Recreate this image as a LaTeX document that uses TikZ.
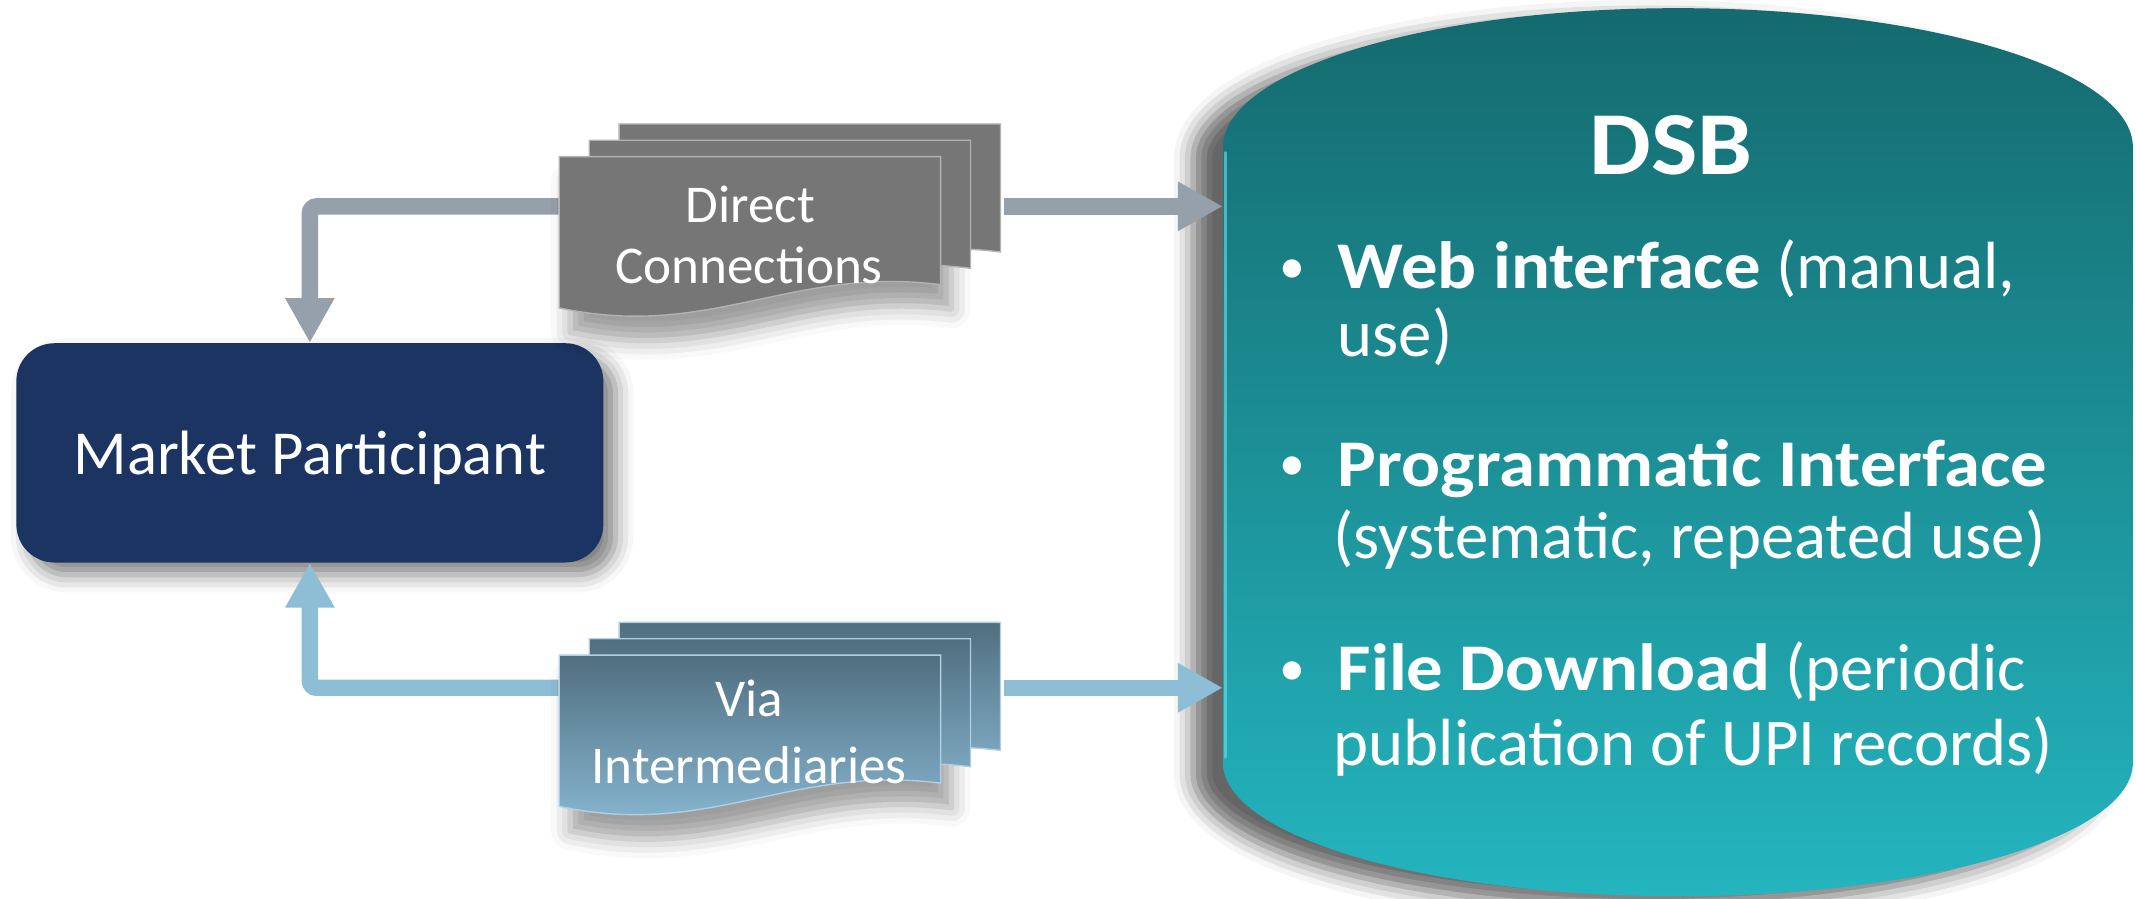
\documentclass[tikz,border=0pt]{standalone}
\usepackage{fontspec}
\setmainfont{Carlito}[BoldFeatures={FakeStretch=1.09}]
\usetikzlibrary{arrows.meta,shadows.blur,calc}
\definecolor{navy}{RGB}{28,52,97}
\definecolor{arrgray}{RGB}{150,160,171}
\definecolor{arrblue}{RGB}{142,189,214}
\definecolor{docgray}{RGB}{118,118,118}
\definecolor{viatop}{RGB}{80,111,128}
\definecolor{viabot}{RGB}{140,188,216}
\definecolor{dsbtop}{RGB}{20,106,110}
\definecolor{dsbbot}{RGB}{36,181,191}
\definecolor{dsbedge}{RGB}{110,225,235}
\newcommand\pagepath{(0,0) -- (280,0) -- (280,94) .. controls (170,80) and (110,135) .. (0,111) -- cycle}
\begin{document}
\begin{tikzpicture}[x=1pt,y=-1pt,
  arrG/.style={line width=12pt, draw=arrgray, rounded corners=5pt, -{Triangle[width=34pt,length=33pt]}},
  arrB/.style={arrG, draw=arrblue},
  lbl/.style={text=white, inner sep=0pt, anchor=base},
  linetext/.style={text=white, inner sep=0pt, anchor=base west, font=\fontsize{49}{55}\selectfont},
  bul/.style={text=white, inner sep=0pt, anchor=base, font=\fontsize{38}{40}\selectfont},
  doclbl/.style={lbl, font=\fontsize{39}{44}\selectfont},
  ghost/.style={draw=none, inner sep=0pt},
  docshadow/.style={fill=white, blur shadow={shadow xshift=8pt, shadow yshift=-18pt, shadow blur radius=14pt, shadow opacity=38}},
  graypage/.style={fill=docgray, draw=gray!60!white, line width=1pt},
  bluepage/.style={top color=viatop, bottom color=viabot, draw=viabot!70!white, line width=1pt},
  mpbox/.style={rounded corners=28pt, fill=navy, text=white, minimum width=431pt, minimum height=161pt,
    text depth=0pt, font=\fontsize{46}{50}\selectfont,
    blur shadow={shadow xshift=9pt, shadow yshift=-9pt, shadow blur radius=13pt, shadow opacity=50}}]
\useasboundingbox (0,0) rectangle (1568.3,660);

% DSB cylinder
\path[top color=dsbtop, bottom color=dsbbot,
  blur shadow={shadow xshift=-22pt, shadow yshift=-8pt, shadow blur radius=14pt, shadow opacity=60}]
  (898,108) .. controls (898,51.7) and (1047.5,6) .. (1232,6)
  .. controls (1416.5,6) and (1566,51.7) .. (1566,108) -- (1566,560)
  .. controls (1566,614.1) and (1416.5,658) .. (1232,658)
  .. controls (1047.5,658) and (898,614.1) .. (898,560) -- cycle;
\draw[dsbedge, line width=2pt, opacity=0.6, line cap=round] (900,112) -- (900,556);
\node[ghost, minimum width=668pt, minimum height=652pt] (dsb) at (1232,332) {};

\node[lbl, font=\bfseries\fontsize{66}{72}\selectfont] (dsbt) at (1227,128) {DSB};
\node[bul] (u1) at (949,208) {•};
\node[bul] (u2) at (949,353) {•};
\node[bul] (u3) at (949,503) {•};
\node[linetext] (l1) at (982,212) {\textbf{Web interface} (manual,};
\node[linetext] (l2) at (982,262) {use)};
\node[linetext] (l3) at (982,357) {\textbf{Programmatic Interface}};
\node[linetext] (l4) at (979,410) {(systematic, repeated use)};
\node[linetext] (l5) at (982,507) {\textbf{File Download} (periodic};
\node[linetext] (l6) at (979,562) {publication of UPI records)};

% Market participant
\node[mpbox] (mp) at (227.5,332.5) {Market Participant};

% document anchors
\node[ghost, minimum width=327pt, minimum height=100pt] (dc) at (573.8,151.5) {};
\node[ghost, minimum width=327pt, minimum height=100pt] (vi) at (573.8,505) {};

% connectors
\draw[arrG] (dc.west) -| (mp.north);
\draw[arrG] (dc.east) -- (dc.east -| dsb.west);
\draw[arrB] (vi.west) -| (mp.south);
\draw[arrB] (vi.east) -- (vi.east -| dsb.west);

% Direct Connections multi-document
\begin{scope}[shift={(410.6,115)}]
  \path[docshadow] \pagepath;
  \path[graypage, shift={(44,-24)}] \pagepath;
  \path[graypage, shift={(22,-12)}] \pagepath;
  \path[graypage] \pagepath;
\end{scope}
\node[doclbl] (dct1) at (551,163) {Direct};
\node[doclbl] (dct2) at (550,208) {Connections};

% Via Intermediaries multi-document
\begin{scope}[shift={(410.6,481)}]
  \path[docshadow] \pagepath;
  \path[bluepage, shift={(44,-24)}] \pagepath;
  \path[bluepage, shift={(22,-12)}] \pagepath;
  \path[bluepage] \pagepath;
\end{scope}
\node[doclbl] (vit1) at (550,526) {Via};
\node[doclbl] (vit2) at (550,575) {Intermediaries};
\end{tikzpicture}
\end{document}
